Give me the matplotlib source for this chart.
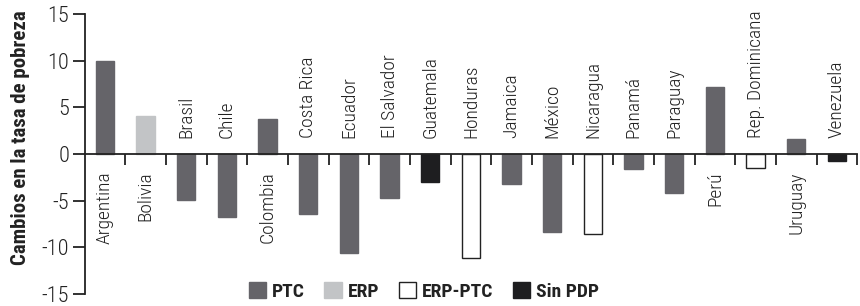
import matplotlib.pyplot as plt
from matplotlib.patches import Patch

plt.rcParams['font.family'] = ['Roboto Condensed', 'DejaVu Sans']

paises = ["Argentina", "Bolivia", "Brasil", "Chile", "Colombia", "Costa Rica",
          "Ecuador", "El Salvador", "Guatemala", "Honduras", "Jamaica", "México",
          "Nicaragua", "Panamá", "Paraguay", "Perú", "Rep. Dominicana",
          "Uruguay", "Venezuela"]
cambios = [10.0, 4.1, -4.9, -6.8, 3.75, -6.4, -10.6, -4.7, -3.0, -11.1, -3.2,
           -8.4, -8.6, -1.6, -4.2, 7.15, -1.5, 1.6, -0.7]
tipo = ["PTC", "ERP", "PTC", "PTC", "PTC", "PTC", "PTC", "PTC", "Sin PDP",
        "ERP-PTC", "PTC", "PTC", "ERP-PTC", "PTC", "PTC", "PTC", "ERP-PTC",
        "PTC", "Sin PDP"]
y_ticks = [-15, -10, -5, 0, 5, 10, 15]

colores = {"PTC": "#656469", "ERP": "#c2c4c6", "ERP-PTC": "white", "Sin PDP": "#1e1e20"}

fig = plt.figure(figsize=(8.6, 3.06), dpi=100)
ax = fig.add_axes([84.5 / 860, 1 - 294 / 306, (857.3 - 84.5) / 860, 280 / 306])

x = list(range(len(paises)))
ax.bar(x, cambios, width=0.45, color=[colores[t] for t in tipo],
       edgecolor=["#222222" if t == "ERP-PTC" else colores[t] for t in tipo],
       linewidth=1.0, zorder=2)

# country names on the opposite side of the bar
for i, (p, v) in enumerate(zip(paises, cambios)):
    if v >= 0:
        ax.annotate(p, (i, 0), xytext=(0, -12.5), textcoords='offset points',
                    rotation=90, ha='center', va='top', fontsize=14,
                    fontweight='light', color='#222222')
    else:
        ax.annotate(p, (i, 0), xytext=(0, 11.5), textcoords='offset points',
                    rotation=90, ha='center', va='bottom', fontsize=14,
                    fontweight='light', color='#222222')

ax.set_xlim(-0.5, len(paises) - 0.5)
ax.set_ylim(-15, 15)
ax.set_yticks(y_ticks)
ax.set_yticklabels([str(t) for t in y_ticks], fontsize=16, fontweight='light', color='#222222')
ax.set_xticks([i + 0.5 for i in range(len(paises))])
ax.set_xticklabels([])

ax.spines['top'].set_visible(False)
ax.spines['right'].set_visible(False)
ax.spines['bottom'].set_position(('data', 0))
for s in ['left', 'bottom']:
    ax.spines[s].set_linewidth(1.3)
    ax.spines[s].set_color('#222222')
ax.tick_params(axis='y', direction='out', length=9, width=1.3, color='#222222', pad=2)
ax.tick_params(axis='x', direction='out', length=8, width=1.3, color='#222222')

ax.set_ylabel("Cambios en la tasa de pobreza", fontsize=15, fontweight='bold',
              color='#222222')
ax.yaxis.set_label_coords(-0.071, 0.56)

handles = [Patch(facecolor=colores[k], edgecolor="#222222" if k == "ERP-PTC" else colores[k],
                 linewidth=1.0, label=k) for k in ["PTC", "ERP", "ERP-PTC", "Sin PDP"]]
fig.legend(handles=handles, loc='center', bbox_to_anchor=(0.493, 0.048), ncol=4,
           frameon=False, prop={'size': 14, 'weight': 'bold'}, handlelength=0.9,
           handleheight=0.9, handletextpad=0.3, columnspacing=1.0, labelcolor='#222222')

fig.savefig("out.png", dpi=100)
